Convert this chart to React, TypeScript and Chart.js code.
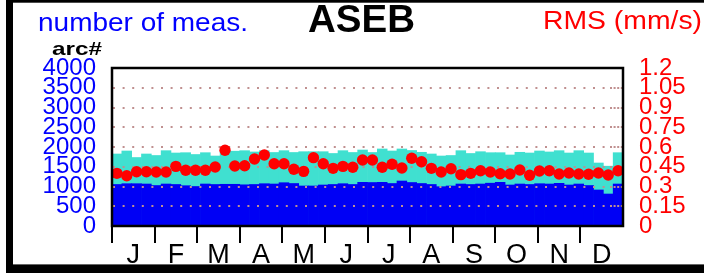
import React, { useEffect, useRef } from 'react';
import { Chart, registerables } from 'chart.js';

Chart.register(...registerables);

// ---- data ----
const weekLabels = [
  '1', '2', '3', '4', '5', '6', '7', '8', '9', '10', '11', '12', '13',
  '14', '15', '16', '17', '18', '19', '20', '21', '22', '23', '24', '25', '26',
  '27', '28', '29', '30', '31', '32', '33', '34', '35', '36', '37', '38', '39',
  '40', '41', '42', '43', '44', '45', '46', '47', '48', '49', '50', '51', '52',
];

const monthLabels = ['J', 'F', 'M', 'A', 'M', 'J', 'J', 'A', 'S', 'O', 'N', 'D'];

// total number of measurements per week (turquoise)
const totalMeas = [
  1823, 1899, 1734, 1823, 1785, 1907, 1848, 1856, 1810, 1856, 1772, 1881, 1894,
  1907, 1874, 1907, 1861, 1907, 1861, 1881, 1881, 1881, 1836, 1907, 1861, 1924,
  1861, 1950, 1899, 1950, 1912, 1866, 1823, 1772, 1785, 1907, 1836, 1881, 1856,
  1856, 1798, 1866, 1848, 1899, 1874, 1907, 1848, 1907, 1848, 1595, 1514, 1856,
];

// number of arcs per week (blue)
const arcCount = [
  1051, 1071, 1071, 1063, 1025, 1063, 1051, 1020, 1000, 1063, 1051, 1056, 1056,
  1043, 1051, 1071, 1063, 1096, 1076, 1013, 1013, 1038, 1051, 1071, 1051, 1106,
  1101, 1106, 1076, 1139, 1101, 1076, 1051, 995, 1013, 1063, 1051, 1063, 1084,
  1106, 1038, 1063, 1051, 1071, 1063, 1081, 1038, 1063, 1025, 912, 810, 1063,
];

// RMS (mm/s) per week (red dots)
const rmsValues = [
  0.400, 0.382, 0.412, 0.412, 0.410, 0.410, 0.453, 0.423, 0.423, 0.423, 0.448, 0.575, 0.456,
  0.458, 0.509, 0.539, 0.473, 0.473, 0.431, 0.415, 0.519, 0.473, 0.438, 0.453, 0.446, 0.501,
  0.501, 0.446, 0.469, 0.440, 0.514, 0.488, 0.438, 0.410, 0.435, 0.390, 0.400, 0.420, 0.410,
  0.397, 0.395, 0.425, 0.385, 0.418, 0.420, 0.395, 0.403, 0.395, 0.393, 0.403, 0.387, 0.420,
];

const leftTicks = [0, 500, 1000, 1500, 2000, 2500, 3000, 3500, 4000];
const leftTickLabels = ['0', '500', '1000', '1500', '2000', '2500', '3000', '3500', '4000'];
const rightTicks = [0, 0.15, 0.3, 0.45, 0.6, 0.75, 0.9, 1.05, 1.2];
const rightTickLabels = ['0', '0.15', '0.3', '0.45', '0.6', '0.75', '0.9', '1.05', '1.2'];
const gridValues = [500, 1000, 1500, 2000, 2500, 3000, 3500];

const FONT = "'Liberation Sans', Arial, Helvetica, sans-serif";

function drawFit(ctx: CanvasRenderingContext2D, text: string, font: string, color: string, x: number, baseline: number, width: number) {
  ctx.save();
  ctx.font = font;
  ctx.fillStyle = color;
  ctx.textAlign = 'left';
  ctx.textBaseline = 'alphabetic';
  const w = ctx.measureText(text).width;
  ctx.translate(x, baseline);
  ctx.scale(width / w, 1);
  ctx.fillText(text, 0, 0);
  ctx.restore();
}

const decorPlugin = {
  id: 'decor',
  beforeDraw(chart: any) {
    const ctx = chart.ctx as CanvasRenderingContext2D;
    ctx.save();
    ctx.fillStyle = '#ffffff';
    ctx.fillRect(0, 0, chart.width, chart.height);
    ctx.restore();
  },
  beforeDatasetDraw(chart: any, args: any) {
    if (args.index !== 0) return;
    const ctx = chart.ctx as CanvasRenderingContext2D;
    const ca = chart.chartArea;
    const ys = chart.scales.y;
    ctx.save();
    ctx.strokeStyle = '#c09090';
    ctx.lineWidth = 2;
    gridValues.forEach((v) => {
      const y = Math.round(ys.getPixelForValue(v));
      ctx.setLineDash([2, 7.6]);
      ctx.beginPath();
      ctx.moveTo(ca.left + 1, y);
      ctx.lineTo(ca.right - 14, y);
      ctx.stroke();
      ctx.setLineDash([2, 1.6]);
      ctx.beginPath();
      ctx.moveTo(ca.right - 13, y);
      ctx.lineTo(ca.right - 1, y);
      ctx.stroke();
    });
    ctx.restore();
  },
  afterDraw(chart: any) {
    const ctx = chart.ctx as CanvasRenderingContext2D;
    const ca = chart.chartArea;
    ctx.save();
    // plot frame
    ctx.strokeStyle = '#000000';
    ctx.lineWidth = 2.5;
    ctx.strokeRect(ca.left, ca.top, ca.right - ca.left, ca.bottom - ca.top);
    // outer frame
    ctx.fillStyle = '#000000';
    ctx.fillRect(6, 0, 7, chart.height);
    ctx.fillRect(6, 0, chart.width - 6, 2.7);
    ctx.fillRect(6, 264.4, chart.width - 6, chart.height - 264.4);
    ctx.restore();
    // header texts
    drawFit(ctx, 'number of meas.', `25px ${FONT}`, '#0000ff', 38, 30.7, 210);
    drawFit(ctx, 'arc#', `bold 19px ${FONT}`, '#000000', 52, 55, 50);
    drawFit(ctx, 'ASEB', `bold 38px ${FONT}`, '#000000', 308, 32, 107);
    drawFit(ctx, 'RMS (mm/s)', `26px ${FONT}`, '#ff0000', 543, 28.5, 159);
  },
};

export default function App() {
  const ref = useRef<HTMLCanvasElement | null>(null);

  useEffect(() => {
    if (!ref.current) return;
    Chart.defaults.font.family = FONT;
    const chart = new Chart(ref.current, {
      type: 'bar',
      data: {
        labels: weekLabels,
        datasets: [
          {
            type: 'line',
            label: 'RMS',
            data: rmsValues,
            xAxisID: 'x',
            yAxisID: 'y2',
            showLine: false,
            pointRadius: 5.7,
            pointBackgroundColor: '#ff0000',
            pointBorderColor: '#ff0000',
            pointBorderWidth: 0,
          } as any,
          {
            type: 'bar',
            label: 'arcs',
            data: arcCount,
            xAxisID: 'x',
            yAxisID: 'y',
            backgroundColor: '#0000f5',
            borderWidth: 0,
            barPercentage: 1,
            categoryPercentage: 1,
          },
          {
            type: 'bar',
            label: 'total',
            data: totalMeas,
            xAxisID: 'x',
            yAxisID: 'y',
            backgroundColor: '#40e0d0',
            borderWidth: 0,
            barPercentage: 1,
            categoryPercentage: 1,
          },
        ],
      },
      options: {
        animation: false,
        responsive: false,
        events: [],
        layout: { padding: { top: 68, left: 0, right: 0, bottom: 0 } },
        plugins: { legend: { display: false }, tooltip: { enabled: false }, title: { display: false } },
        scales: {
          x: {
            type: 'category',
            stacked: true,
            display: false,
            offset: true,
          },
          xm: {
            type: 'category',
            labels: monthLabels,
            position: 'bottom',
            offset: true,
            border: { display: false },
            grid: {
              offset: true,
              drawOnChartArea: false,
              drawTicks: true,
              tickLength: 17,
              lineWidth: 2,
              color: (c: any) => (c.type === 'tick' ? '#000000' : 'rgba(0,0,0,0)'),
            },
            ticks: {
              color: '#000000',
              font: { size: 27 },
              padding: -4,
              maxRotation: 0,
              autoSkip: false,
            },
            afterFit: (s: any) => {
              s.height = 47;
            },
          },
          y: {
            type: 'linear',
            position: 'left',
            min: 0,
            max: 4000,
            stacked: false,
            border: { display: false },
            grid: { display: false, drawTicks: false },
            afterBuildTicks: (s: any) => {
              s.ticks = leftTicks.map((v) => ({ value: v }));
            },
            ticks: {
              color: '#0000ff',
              font: { size: 24 },
              padding: 16,
              autoSkip: false,
              callback: (_v: any, i: number) => leftTickLabels[i],
            },
            afterFit: (s: any) => {
              s.width = 112;
            },
          },
          y2: {
            type: 'linear',
            position: 'right',
            min: 0,
            max: 1.2,
            border: { display: false },
            grid: { display: false, drawTicks: false },
            afterBuildTicks: (s: any) => {
              s.ticks = rightTicks.map((v) => ({ value: v }));
            },
            ticks: {
              color: '#ff0000',
              font: { size: 24 },
              padding: 16,
              autoSkip: false,
              callback: (_v: any, i: number) => rightTickLabels[i],
            },
            afterFit: (s: any) => {
              s.width = 81;
            },
          },
        },
      } as any,
      plugins: [decorPlugin],
    });
    return () => chart.destroy();
  }, []);

  return (
    <div style={{ position: 'fixed', left: 0, top: 0, width: 704, height: 273, background: '#fff' }}>
      <canvas ref={ref} width={704} height={273} style={{ display: 'block', width: 704, height: 273 }} />
    </div>
  );
}
